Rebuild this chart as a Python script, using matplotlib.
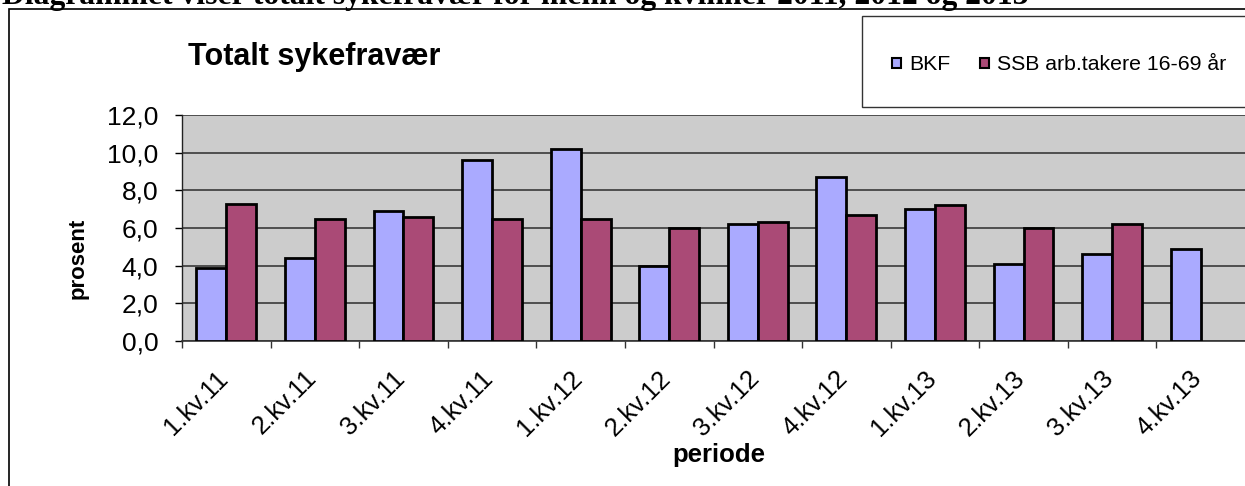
import numpy as np
import matplotlib
matplotlib.use("Agg")
import matplotlib.pyplot as plt
from matplotlib.patches import Rectangle, Patch
from matplotlib.transforms import ScaledTranslation

# ---- data ----
periods = ["1.kv.11", "2.kv.11", "3.kv.11", "4.kv.11",
           "1.kv.12", "2.kv.12", "3.kv.12", "4.kv.12",
           "1.kv.13", "2.kv.13", "3.kv.13", "4.kv.13"]
bkf = [3.9, 4.4, 6.9, 9.6, 10.2, 4.0, 6.2, 8.7, 7.0, 4.1, 4.6, 4.9]
ssb = [7.3, 6.5, 6.6, 6.5, 6.5, 6.0, 6.3, 6.7, 7.2, 6.0, 6.2, np.nan]
series_names = ["BKF", "SSB arb.takere 16-69 år"]
y_ticks = [0, 2, 4, 6, 8, 10, 12]
y_ticklabels = ["0,0", "2,0", "4,0", "6,0", "8,0", "10,0", "12,0"]
title = "Totalt sykefravær"
header = "Diagrammet viser totalt sykefravær for menn og kvinner 2011, 2012 og 2013"

plt.rcParams['font.family'] = ['Liberation Sans', 'DejaVu Sans']

W, H = 1245, 486
fig = plt.figure(figsize=(W / 100, H / 100), dpi=100)

def fx(px):
    return px / W

def fy(py):
    return 1 - py / H

# outer chart frame
fig.add_artist(Rectangle((fx(9), fy(520)), 2, fy(9) - fy(520), transform=fig.transFigure,
                         fill=False, ec="black", lw=1.2))
# header text (partly cut off at top)
fig.text(fx(2), fy(4), header, family=["Liberation Serif", "DejaVu Serif"], fontweight="bold",
         fontsize=22.8, ha="left", va="baseline")

# axes
ax = fig.add_axes([fx(182), fy(341), fx(1245) - fx(182), fy(115) - fy(341)])
ax.set_facecolor("#CCCCCC")
x = np.arange(len(periods))
w = 0.338
ax.bar(x - w / 2, bkf, w, color="#AAAAFF", edgecolor="black", linewidth=2.0, zorder=3)
ax.bar(x + w / 2, ssb, w, color="#AA4A76", edgecolor="black", linewidth=2.0, zorder=3)

ax.set_xlim(-0.5, len(periods) - 0.5)
ax.set_ylim(0, 12)
ax.set_yticks(y_ticks)
ax.set_yticklabels(y_ticklabels, fontsize=19)
ax.yaxis.grid(True, color="#444444", lw=1.3, zorder=1)
ax.set_axisbelow(True)
ax.tick_params(axis="y", direction="out", length=5, width=1, color="black", pad=12)

ax.set_xticks(x)
ax.set_xticklabels(periods, rotation=45, ha="right", va="top", fontsize=18.5)
ax.set_xticks(np.arange(-0.5, len(periods) - 0.5, 1.0), minor=True)
ax.tick_params(axis="x", which="major", length=0, pad=18)
ax.tick_params(axis="x", which="minor", direction="out", length=5, width=1, color="#333333")
shift = ScaledTranslation(6 / 100, 0, fig.dpi_scale_trans)
for lab in ax.get_xticklabels():
    lab.set_transform(lab.get_transform() + shift)

for s in ["top", "right"]:
    ax.spines[s].set_visible(False)
ax.spines["left"].set_color("#222222")
ax.spines["bottom"].set_color("#333333")
ax.spines["left"].set_linewidth(1)
ax.spines["bottom"].set_linewidth(1.2)

# title and axis labels
fig.text(fx(188), fy(57), title, fontsize=22, fontweight="bold", ha="left", va="center")
fig.text(fx(719), fy(455), "periode", fontsize=18.5, fontweight="bold", ha="center", va="center")
fig.text(fx(78), fy(258), "prosent", fontsize=16, fontweight="bold", ha="center", va="center",
         rotation=90)

# legend box
fig.add_artist(Rectangle((fx(862), fy(107)), 1, fy(16) - fy(107), transform=fig.transFigure,
                         fill=True, fc="white", ec="#333333", lw=1))
handles = [Patch(facecolor="#AAAAFF", edgecolor="black", linewidth=1.5),
           Patch(facecolor="#AA4A76", edgecolor="black", linewidth=1.5)]
fig.legend(handles, series_names, loc="center left", bbox_to_anchor=(fx(892), fy(65)),
           ncol=2, frameon=False, fontsize=15.3, handlelength=0.4, handleheight=0.4,
           handletextpad=0.4, columnspacing=1.4, borderpad=0, borderaxespad=0)

fig.savefig("out.png", dpi=100)
